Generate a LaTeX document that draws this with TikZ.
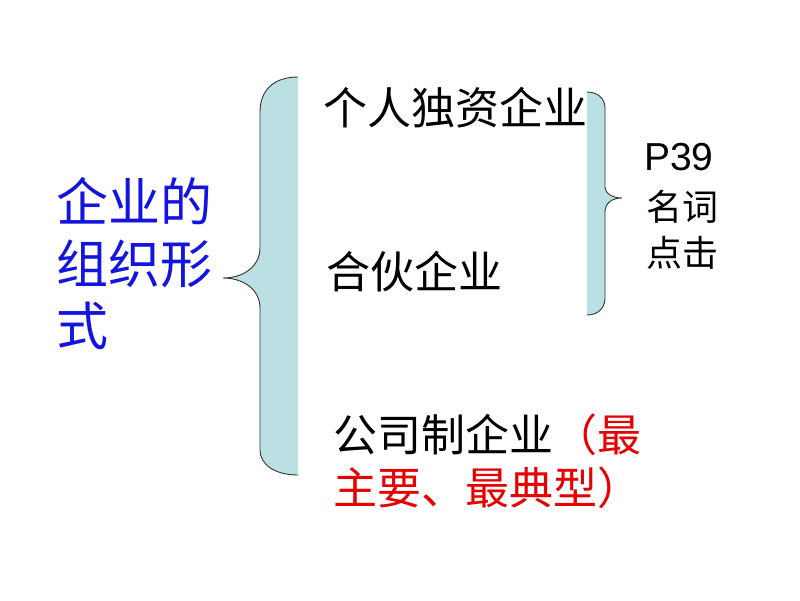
\documentclass[tikz,border=0pt]{standalone}
\usepackage{fontspec}
\setmainfont{Noto Sans CJK SC}
\newfontfamily\latinfont{Liberation Sans}
\definecolor{bracefill}{RGB}{187,224,228}
\definecolor{formblue}{RGB}{20,20,225}
\definecolor{notered}{RGB}{230,0,0}
\tikzset{
  item/.style={anchor=west,inner sep=0pt,font=\fontsize{44}{53}\selectfont},
  note/.style={anchor=west,inner sep=0pt,font=\fontsize{36}{46}\selectfont},
  braceline/.style={draw=black!80,line width=0.9pt}
}

\begin{document}
\begin{tikzpicture}[x=1pt,y={(0pt,-1pt)}]
\useasboundingbox (0,0) rectangle (800,600);
% BIG BRACE
\fill [bracefill] (298,77) .. controls (274,77) and (260,90) .. (260,112)
  -- (260,248) .. controls (260,266) and (244,278) .. (223,278)
  .. controls (244,278) and (260,290) .. (260,308)
  -- (260,450) .. controls (260,464) and (274,475) .. (298,475) -- cycle;
\draw [braceline] (298,77) .. controls (274,77) and (260,90) .. (260,112)
  -- (260,248) .. controls (260,266) and (244,278) .. (223,278)
  .. controls (244,278) and (260,290) .. (260,308)
  -- (260,450) .. controls (260,464) and (274,475) .. (298,475);
% SMALL BRACE
\fill [bracefill] (587,92) .. controls (598,92) and (605,99) .. (605,108)
  -- (605,187) .. controls (605,193) and (612,198) .. (622,198)
  .. controls (612,198) and (605,203) .. (605,212)
  -- (605,298) .. controls (605,308) and (598,315) .. (587,315) -- cycle;
\draw [braceline] (587,92) .. controls (598,92) and (605,99) .. (605,108)
  -- (605,187) .. controls (605,193) and (612,198) .. (622,198)
  .. controls (612,198) and (605,203) .. (605,212)
  -- (605,298) .. controls (605,308) and (598,315) .. (587,315);
% LEFT TITLE
\node (form) [anchor=west,inner sep=0pt,align=left,text=formblue,
  font=\fontsize{52}{62}\selectfont] at (56,264) {企业的\\组织形\\式};
% KINDS
\node (sole) [item] at (323,108) {个人独资企业};
\node (partner) [item] at (326,272) {合伙企业};
\node (corpa) [item] at (333,435) {公司制企业\textcolor{notered}{（最}};
\node (corpb) [item,text=notered] at (333,488) {主要、最典型）};
% PAGE NOTE
\node (page) [note,font=\latinfont\fontsize{39}{44}\selectfont] at (644,157) {P39};
\node (term) [note] at (646,207) {名词};
\node (click) [note] at (646,253) {点击};
\end{tikzpicture}
\end{document}
